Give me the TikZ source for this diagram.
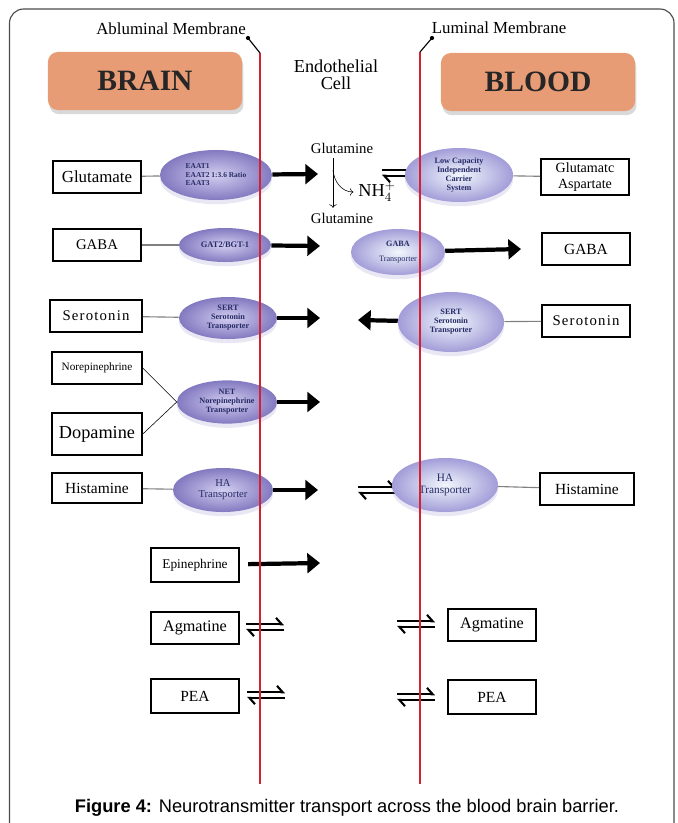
\documentclass[tikz,border=0pt]{standalone}
\usepackage{fontspec}
\setmainfont{Liberation Serif}
\newfontfamily\capfont{Liberation Sans}
\usetikzlibrary{arrows.meta, shapes.geometric, shadows, positioning}
\definecolor{salmon}{HTML}{E89C76}
\definecolor{membred}{HTML}{D42030}
\definecolor{lilac}{HTML}{8379C0}
\definecolor{lilacin}{HTML}{D2CEF0}
\definecolor{skyin}{HTML}{F2F7FD}
\definecolor{skyout}{HTML}{A29DD8}
\definecolor{navy}{HTML}{262B66}
\tikzset{
  region/.style = {rectangle, rounded corners=7pt, fill=salmon, text=black!85,
    minimum width=4.85cm, minimum height=1.45cm,
    font=\bfseries\fontsize{21}{21}\selectfont,
    drop shadow={opacity=0.3, shadow xshift=1pt, shadow yshift=-3pt}},% compartment
  mol/.style = {rectangle, draw=black, line width=1.1pt, align=center,
    minimum width=2.2cm, minimum height=0.8cm, inner sep=1pt},% substrate box
  tr_l/.style = {ellipse, shade, inner color=lilacin, outer color=lilac,
    align=center, inner sep=0pt, text=navy,
    font=\bfseries\fontsize{5.8}{6.4}\selectfont,
    drop shadow={opacity=0.18, shadow xshift=0pt, shadow yshift=-3pt, fill=lilac}},% abluminal carrier
  tr_r/.style = {tr_l, inner color=skyin, outer color=skyout},% luminal carrier
  link/.style = {gray, line width=0.8pt},
  flux/.style = {line width=3pt, -{Triangle[length=9pt, width=14pt]}},
  membrane/.style = {membred, line width=1.6pt},
  leader/.style = {black, line width=0.8pt},
  eqm/.pic = {
    \draw[line width=1.5pt, -{Straight Barb[harpoon, length=4pt, width=9pt]}] (-19,-2.8) -- (19,-2.8);
    \draw[line width=1.5pt, -{Straight Barb[harpoon, length=4pt, width=9pt]}] (19,2.8) -- (-19,2.8);
  }
}

\begin{document}
\begin{tikzpicture}[x=0.025cm, y=-0.025cm]
\useasboundingbox (0,0) rectangle (678,823);
\draw[gray!60!black, line width=0.8pt, rounded corners=10pt] (9.5,840) -- (9.5,9) -- (674,9) -- (674,840);

% compartments
\node[region] (brain) at (145,81) {BRAIN};
\node[region] (blood) at (538,82) {BLOOD};
\node[font=\fontsize{13}{12}\selectfont, align=center] (endo) at (336,75) {Endothelial\\Cell};
\node[font=\fontsize{12}{13}\selectfont] (abl) at (171,29) {Abluminal Membrane};
\node[font=\fontsize{12}{13}\selectfont] (lum) at (499,28) {Luminal Membrane};

% glutamate
\node[mol, line width=1.6pt, font=\fontsize{12}{12}\selectfont] (glu) at (97,177) {Glutamate};
\node[tr_l, minimum width=2.8cm, minimum height=1.25cm, align=left, font=\bfseries\fontsize{5.3}{6}\selectfont] (eaat) at (216,175) {EAAT1\\EAAT2 1:3.6 Ratio\\EAAT3};
\coordinate (glu_in) at (318,174);
\draw[link] (glu) -- (eaat);
\draw[flux] (eaat) -- (glu_in);
\node[font=\fontsize{10.5}{12}\selectfont] (gln_a) at (342,148) {Glutamine};
\node[font=\fontsize{10.5}{12}\selectfont] (gln_b) at (342,218) {Glutamine};
\node[font=\fontsize{13}{13}\selectfont] (nh4) at (377,192) {NH$_4^+$};
\coordinate (split) at (333,170);
\draw[thin, -{To}] (gln_a.south -| split) -- (gln_b.north -| split);
\draw[thin, -{To}] (split) to[out=-85, in=180] (nh4.west);
\pic at (401,173) {eqm};
\node[tr_r, minimum width=2.7cm, minimum height=1.35cm] (lcic) at (459,175) {Low Capacity\\Independent\\Carrier\\System};
\node[mol, font=\fontsize{10}{11}\selectfont, minimum height=0.9cm] (asp) at (585,177) {Glutamatc\\Aspartate};
\draw[link] (lcic) -- (asp);

% gaba
\node[mol, font=\fontsize{10.5}{12}\selectfont] (gaba_l) at (97,245) {GABA};
\node[tr_l, minimum width=2.3cm, minimum height=0.85cm, font=\bfseries\fontsize{6}{6.5}\selectfont] (gat) at (225,245) {GAT2/BGT-1};
\coordinate (gaba_in) at (320,246);
\draw[link] (gaba_l) -- (gat);
\draw[flux] (gat) -- (gaba_in);
\node[tr_r, minimum width=2.35cm, minimum height=1.15cm] (gabat) at (398,252) {GABA\\[4pt]\mdseries Transporter};
\coordinate (gaba_out) at (521,249);
\draw[flux] (gabat) -- (gaba_out);
\node[mol, font=\fontsize{11}{12}\selectfont] (gaba_r) at (586,249) {GABA};

% serotonin
\node[mol, minimum width=2.3cm, font=\fontsize{10.5}{12}\selectfont\addfontfeature{LetterSpace=8}] (ser_l) at (96,316) {Serotonin};
\node[tr_l, minimum width=2.45cm, minimum height=1.05cm] (sert_l) at (228,318) {SERT\\Serotonin\\Transporter};
\coordinate (ser_in) at (320,318);
\draw[link] (ser_l) -- (sert_l);
\draw[flux] (sert_l) -- (ser_in);
\node[tr_r, minimum width=2.65cm, minimum height=1.5cm] (sert_r) at (451,322) {SERT\\Serotonin\\Transporter};
\coordinate (ser_out) at (358,320);
\draw[flux] (sert_r) -- (ser_out);
\node[mol, font=\fontsize{10.5}{12}\selectfont\addfontfeature{LetterSpace=8}] (ser_r) at (586,321) {Serotonin};
\draw[link] (sert_r) -- (ser_r);

% catecholamines
\node[mol, minimum width=2.25cm, font=\fontsize{8}{9}\selectfont] (nor) at (97,368) {Norepinephrine};
\node[mol, minimum width=2.25cm, minimum height=1.05cm, font=\fontsize{13}{14}\selectfont] (dop) at (97,434) {Dopamine};
\node[tr_l, minimum width=2.5cm, minimum height=1.08cm] (net) at (227,402) {NET\\Norepinephrine\\Transporter};
\coordinate (net_in) at (320,402);
\draw[thin] (nor.east) -- (net.west) -- (dop.east);
\draw[flux] (net) -- (net_in);

% histamine
\node[mol, minimum width=2.25cm, minimum height=0.75cm, font=\fontsize{11}{12}\selectfont] (his_l) at (97,488) {Histamine};
\node[tr_l, minimum width=2.5cm, minimum height=1.1cm, font=\fontsize{7.5}{8}\selectfont] (ha_l) at (223,490) {HA\\Transporter};
\coordinate (ha_in) at (318,490);
\draw[link] (his_l) -- (ha_l);
\draw[flux] (ha_l) -- (ha_in);
\pic at (377,490) {eqm};
\node[tr_r, minimum width=2.65cm, minimum height=1.35cm, font=\fontsize{8}{8.5}\selectfont] (ha_r) at (445,485) {HA\\Transporter};
\node[mol, minimum width=2.35cm, font=\fontsize{11}{12}\selectfont] (his_r) at (587,489) {Histamine};
\draw[link] (ha_r) -- (his_r);

% trace amines
\node[mol, minimum height=0.85cm, font=\fontsize{9.5}{11}\selectfont] (epi) at (195,565) {Epinephrine};
\coordinate (epi_in) at (320,563);
\draw[flux, shorten <=6pt] (epi) -- (epi_in);
\node[mol, font=\fontsize{11.5}{12}\selectfont] (agm_l) at (195,628) {Agmatine};
\pic at (265,627) {eqm};
\pic at (416,624) {eqm};
\node[mol, font=\fontsize{11.5}{12}\selectfont] (agm_r) at (492,625) {Agmatine};
\node[mol, minimum height=0.85cm, font=\fontsize{11}{12}\selectfont] (pea_l) at (195,696) {PEA};
\pic at (266,695) {eqm};
\pic at (416,697) {eqm};
\node[mol, minimum height=0.85cm, font=\fontsize{11}{12}\selectfont] (pea_r) at (492,697) {PEA};

% membranes
\coordinate (abl_dot) at (248,38);
\coordinate (abl_top) at (260,53);
\coordinate (abl_bot) at (260,784);
\coordinate (lum_dot) at (432,38);
\coordinate (lum_top) at (420,52);
\coordinate (lum_bot) at (420,784);
\draw[membrane] (abl_top) -- (abl_bot);
\draw[membrane] (lum_top) -- (lum_bot);
\draw[leader] (abl_dot) -- (abl_top);
\draw[leader] (lum_dot) -- (lum_top);
\fill (abl_dot) circle (1.5pt);
\fill (lum_dot) circle (1.5pt);

\node[font=\capfont\fontsize{13}{15}\selectfont] (cap) at (347,808) {\textbf{Figure 4:} Neurotransmitter transport across the blood brain barrier.};
%\draw[red] (0,0) grid[step=50] (678,823);
\end{tikzpicture}
\end{document}
